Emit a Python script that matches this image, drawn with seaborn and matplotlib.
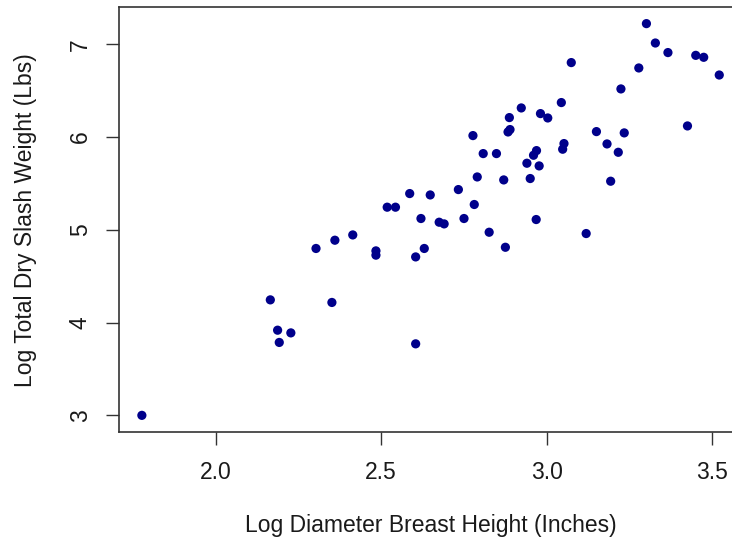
import matplotlib
matplotlib.use("Agg")
import matplotlib.pyplot as plt
import seaborn as sns
import pandas as pd

# Data (log scale values)
log_dbh = [1.777, 2.165, 2.187, 2.227, 2.192, 2.351, 2.303, 2.360, 2.414,
           2.484, 2.484, 2.518, 2.543, 2.586, 2.620, 2.630, 2.604, 2.604,
           2.648, 2.733, 2.675, 2.690, 2.750, 2.781, 2.790, 2.777, 2.808,
           2.848, 2.826, 2.875, 2.870, 2.887, 2.883, 2.889, 2.923, 2.940,
           2.950, 2.960, 2.969, 2.977, 2.968, 2.981, 3.003, 3.044, 3.052,
           3.048, 3.074, 3.119, 3.150, 3.182, 3.193, 3.216, 3.224, 3.234,
           3.278, 3.301, 3.328, 3.366, 3.425, 3.450, 3.474, 3.521]
log_weight = [3.000, 4.245, 3.918, 3.889, 3.786, 4.217, 4.799, 4.888, 4.945,
              4.773, 4.727, 5.244, 5.244, 5.391, 5.122, 4.799, 4.708, 3.771,
              5.376, 5.434, 5.082, 5.064, 5.122, 5.273, 5.570, 6.016, 5.822,
              5.822, 4.974, 4.812, 5.538, 6.210, 6.055, 6.081, 6.314, 5.718,
              5.553, 5.804, 5.854, 5.689, 5.111, 6.253, 6.206, 6.372, 5.930,
              5.869, 6.803, 4.960, 6.059, 5.926, 5.524, 5.836, 6.519, 6.045,
              6.745, 7.223, 7.014, 6.911, 6.120, 6.881, 6.860, 6.669]

x_ticks = [2.0, 2.5, 3.0, 3.5]
x_tick_labels = ["2.0", "2.5", "3.0", "3.5"]
y_ticks = [3, 4, 5, 6, 7]
y_tick_labels = ["3", "4", "5", "6", "7"]

x_label = "Log Diameter Breast Height (Inches)"
y_label = "Log Total Dry Slash Weight (Lbs)"

sns.set_style("ticks")
plt.rcParams['font.family'] = ['Liberation Sans', 'DejaVu Sans']

df = pd.DataFrame({"dbh": log_dbh, "weight": log_weight})

fig = plt.figure(figsize=(7.32, 5.4), dpi=100)
ax = fig.add_axes([0.1626, 0.1994, 0.8512, 0.7876])

sns.scatterplot(data=df, x="dbh", y="weight", ax=ax, color="#00008B",
                s=44, linewidth=0, edgecolor="none", zorder=3)

ax.set_xlim(1.708, 3.59)
ax.set_ylim(2.817, 7.402)

for sp in ax.spines.values():
    sp.set_visible(True)
    sp.set_color("#333333")
    sp.set_linewidth(1.2)

ax.set_xticks(x_ticks)
ax.set_xticklabels(x_tick_labels)
ax.set_yticks(y_ticks)
ax.set_yticklabels(y_tick_labels, rotation=90, va="center")

ax.tick_params(axis="both", direction="out", length=9.6, width=1.0,
               color="#333333", labelcolor="#1a1a1a", labelsize=16.5)
ax.tick_params(axis="x", pad=11)
ax.tick_params(axis="y", pad=10)

ax.set_xlabel(x_label, fontsize=16.5, color="#1a1a1a", labelpad=22)
ax.set_ylabel(y_label, fontsize=16.5, color="#1a1a1a", labelpad=23)

fig.savefig("out.png", dpi=100)
